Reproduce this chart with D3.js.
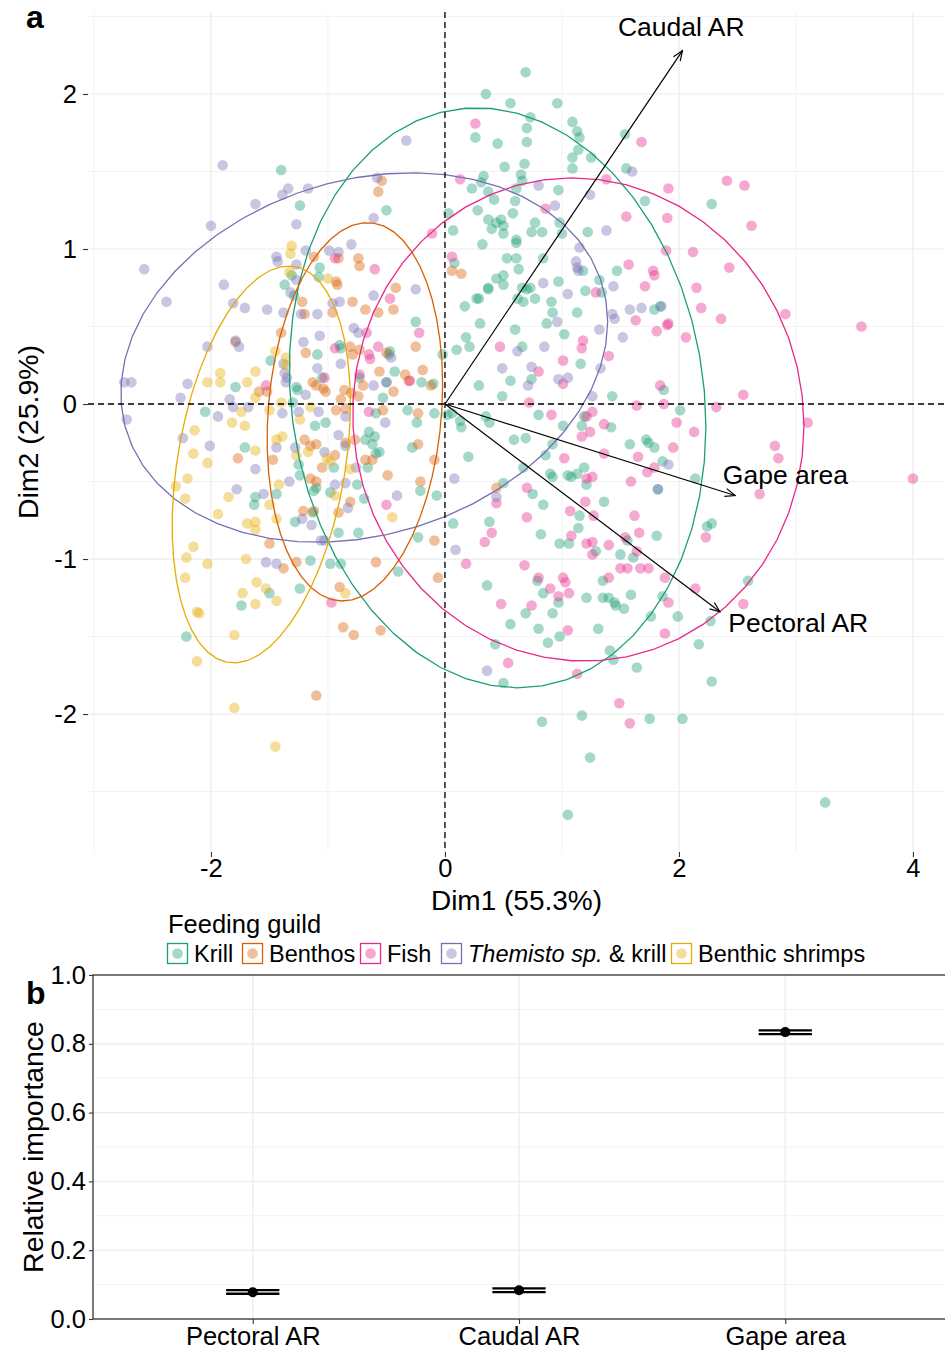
<!DOCTYPE html>
<html><head><meta charset="utf-8">
<script src="https://cdn.jsdelivr.net/npm/d3@7"></script>
<style>body{margin:0;background:#fff} svg{display:block} text{font-family:"Liberation Sans",Arial,Helvetica,sans-serif}</style>
</head><body><svg id="c" width="945" height="1360"></svg>
<script>
const guilds = ["Krill","Benthos","Fish","Themisto sp. & krill","Benthic shrimps"];
const guildColors = ["#1b9e77","#d95f02","#e7298a","#7570b3","#e6ab02"];

const krill = [[-1.40,1.51],[-1.24,1.28],[-0.50,1.25],[-1.07,0.88],[-1.31,0.83],[-1.08,0.82],[-1.37,0.77],
[0.69,2.14],[0.35,2.00],[0.56,1.94],[0.96,1.94],[0.73,1.85],[0.70,1.78],[1.09,1.82],[1.13,1.76],[1.15,1.72],[0.26,1.72],[0.45,1.68],[0.70,1.69],[1.54,1.74],[1.14,1.64],[1.09,1.59],[1.25,1.59],[0.51,1.53],[0.68,1.55],[1.09,1.52],[1.55,1.52],[0.65,1.48],[0.66,1.44],[0.33,1.47],[0.31,1.43],[0.23,1.39],[0.61,1.39],[0.97,1.38],[0.37,1.37],[0.42,1.32],[0.60,1.31],[1.71,1.31],[0.28,1.25],[0.58,1.23],[0.03,1.23],[0.37,1.19],[0.44,1.17],[0.48,1.19],[0.50,1.15],[0.40,1.13],[0.50,1.10],[0.77,1.17],[0.98,1.17],[1.00,1.10],[0.74,1.11],[0.83,1.11],[1.22,1.11],[0.07,1.12],[0.61,1.06],[0.61,1.04],[0.32,1.03],[0.08,0.91],[0.53,0.94],[0.61,0.94],[0.63,0.87],[0.84,0.94],[1.18,0.86],[1.47,0.86],[0.44,0.81],[0.50,0.83],[0.50,0.77],[0.97,0.79],[1.32,0.80],[0.37,0.75],[0.66,0.75],[0.73,0.75],[2.28,1.29],
[-1.29,0.70],[-0.90,0.38],[-0.89,0.36],[-1.09,0.32],[-1.49,0.28],[-1.79,0.11],[-1.27,0.11],[-1.26,0.09],[-1.05,0.17],[-0.73,0.17],[-1.30,0.01],[-0.59,-0.06],[-2.05,-0.05],[-1.11,-0.14],[-1.02,-0.12],[-0.68,-0.23],[-0.65,-0.18],[-0.60,-0.21],[-0.62,-0.26],[-0.59,-0.32],[-1.71,-0.28],[-1.25,-0.39],[-0.95,-0.41],[-0.66,-0.41],[-1.24,-0.46],[-1.10,-0.54],[-1.12,-0.56],[-0.98,-0.57],[-0.75,-0.52],[-0.69,-0.61],[-1.62,-0.60],[-1.63,-0.65],[-1.44,-0.58],[-1.13,-0.70],[-1.28,-0.76],[-0.91,-0.83],[-0.74,-0.83],[-1.15,-1.01],[-0.98,-1.03],[-0.89,-1.03],
[0.37,0.74],[0.17,0.63],[0.27,0.68],[0.29,0.68],[0.62,0.68],[0.67,0.66],[0.77,0.68],[0.70,0.74],[0.91,0.66],[0.92,0.59],[1.20,0.73],[1.34,0.72],[1.13,0.59],[0.30,0.52],[0.87,0.52],[0.60,0.48],[1.02,0.45],[1.79,0.61],[1.84,0.63],[-0.25,0.53],[-0.47,0.34],[-0.48,0.32],[0.18,0.43],[0.21,0.37],[0.10,0.35],[-0.02,0.32],[0.66,0.37],[1.16,0.26],[0.74,0.16],[0.56,0.15],[-0.43,0.21],[-0.20,0.14],[-0.10,0.13],[-0.50,0.14],[-0.53,0.04],[0.29,0.12],[0.49,0.05],[1.43,0.05],[1.87,0.09],[-0.32,-0.04],[-0.24,-0.12],[-0.09,-0.06],[0.02,-0.07],[0.06,-0.06],[0.13,-0.11],[0.14,-0.15],[0.35,-0.08],[0.38,-0.12],[0.80,-0.07],[1.01,-0.14],[1.19,-0.08],[1.17,-0.14],[1.42,-0.15],[-0.28,-0.28],[0.59,-0.23],[0.69,-0.22],[0.92,-0.26],[1.58,-0.26],[1.72,-0.23],[1.74,-0.25],[1.79,-0.28],[0.20,-0.34],[0.86,-0.33],[1.86,-0.37],[-0.56,-0.31],[0.67,-0.41],[0.90,-0.45],[0.92,-0.47],[1.05,-0.46],[1.08,-0.47],[1.13,-0.45],[1.19,-0.41],[1.21,-0.52],[-0.21,-0.56],[-0.07,-0.59],[0.50,-0.51],[0.75,-0.58],[0.84,-0.65],[1.36,-0.63],[1.15,-0.72],[1.14,-0.80],[0.07,-0.77],[0.38,-0.76],[0.82,-0.84],[0.98,-0.90],[1.06,-0.90],[1.81,-0.85],[1.56,-0.88],[-0.23,-0.86],[1.29,-0.95],[1.50,-0.97],[1.61,-0.99],[2.01,-0.04],[2.14,-0.48],[2.24,-0.79],[2.28,-0.77],[1.82,-0.55],
[-1.50,-1.22],[-1.74,-1.30],[-1.24,-1.19],[-2.21,-1.50],[-0.40,-1.08],[0.36,-1.17],[0.79,-1.14],[0.84,-1.22],[0.97,-1.28],[0.69,-1.35],[0.92,-1.35],[0.56,-1.42],[0.80,-1.45],[0.88,-1.54],[0.98,-1.50],[1.21,-1.25],[1.35,-1.14],[1.35,-1.25],[1.40,-1.25],[1.45,-1.28],[1.46,-1.30],[1.53,-1.32],[1.59,-1.23],[1.86,-1.24],[1.76,-1.37],[1.31,-1.45],[0.43,-1.55],[0.50,-1.80],[1.41,-1.59],[1.44,-1.65],[1.64,-1.70],[0.83,-2.05],[1.17,-2.01],[1.75,-2.03],[1.24,-2.28],[1.05,-2.65],[2.59,-1.14],[1.99,-1.37],[2.27,-1.40],[2.17,-1.55],[2.28,-1.79],[2.03,-2.03],[3.25,-2.57]];

const benthos = [[-0.54,1.44],[-0.57,1.37],[-1.12,0.95],[-0.91,0.94],[-0.74,0.94],[-0.73,0.89],[-0.93,0.79],[-0.92,0.77],[0.06,0.86],[0.14,0.84],[-1.20,0.58],[-1.22,0.66],[-0.96,0.59],[-0.79,0.66],[-0.68,0.61],[-0.57,0.59],[-1.40,0.46],[-1.79,0.40],[-0.81,0.37],[-0.79,0.32],[-0.73,0.35],[-1.19,0.33],[-1.59,0.08],[-1.52,0.08],[-1.13,0.14],[-1.10,0.12],[-1.04,0.10],[-1.02,0.08],[-0.86,0.09],[-0.80,0.07],[-0.74,0.05],[-0.70,0.12],[-0.56,0.21],[-0.93,-0.04],[-0.85,-0.03],[-0.89,0.03],[-1.20,-0.23],[-1.15,-0.27],[-1.10,-0.26],[-0.85,-0.25],[-0.77,-0.23],[-0.94,-0.33],[-1.77,-0.35],[-1.47,-0.36],[-1.05,-0.41],[-0.68,-0.36],[-0.62,-0.36],[-1.15,-0.48],[-1.10,-0.50],[-0.81,-0.63],[-1.21,-0.69],[-1.12,-0.69],[-0.91,-0.70],[-1.50,-0.90],[-1.27,-1.02],[-0.59,-1.02],[-0.42,0.75],[-0.44,0.61],[-0.25,0.37],[-0.50,0.33],[-0.34,0.19],[-0.31,0.15],[-0.19,0.22],[-0.12,0.12],[-0.44,0.08],[-0.53,-0.04],[-0.23,-0.06],[-0.23,-0.26],[-0.09,-0.36],[-0.49,-0.46],[-0.21,-0.50],[0.44,-0.54],[-0.09,-0.88],[-1.38,-1.06],[-0.90,-1.18],[-0.87,-1.44],[-0.78,-1.49],[-0.55,-1.46],[-1.10,-1.88],[-0.06,-1.12]];

const fish = [[-0.94,0.94],[-0.60,0.87],[0.26,1.81],[1.68,1.69],[0.13,1.45],[1.38,1.45],[1.91,1.39],[0.86,1.26],[1.55,1.21],[1.90,1.20],[-0.11,1.10],[1.89,0.99],[0.06,0.95],[1.57,0.90],[1.78,0.86],[1.79,0.83],[1.71,0.76],[2.41,1.44],[2.56,1.41],[2.62,1.15],[2.12,0.98],[2.43,0.88],[2.15,0.75],[-0.67,0.46],[-0.94,0.36],[-0.57,0.37],[-0.65,0.32],[-0.64,0.29],[-1.53,0.12],[-1.03,0.17],[-0.73,0.19],[-0.65,-0.05],[-0.47,0.68],[1.29,0.72],[1.63,0.54],[1.81,0.47],[1.90,0.51],[-0.22,0.46],[0.47,0.37],[1.18,0.41],[1.17,0.36],[1.01,0.28],[1.40,0.31],[0.80,0.21],[1.01,0.13],[-0.30,0.15],[0.72,0.01],[1.84,0.12],[1.64,-0.01],[1.87,0.00],[0.91,-0.07],[1.21,-0.08],[1.26,-0.05],[1.24,-0.18],[1.17,-0.21],[1.36,-0.13],[1.02,-0.35],[1.36,-0.32],[1.65,-0.34],[1.21,-0.48],[1.26,-0.47],[1.59,-0.50],[1.73,-0.44],[1.79,-0.41],[-0.50,-0.65],[0.44,-0.64],[0.70,-0.54],[1.20,-0.63],[1.27,-0.72],[1.07,-0.69],[1.62,-0.72],[0.70,-0.73],[0.40,-0.83],[0.34,-0.89],[1.08,-0.85],[1.21,-0.90],[1.26,-0.89],[1.40,-0.91],[1.54,-0.86],[1.66,-0.83],[1.26,-0.97],[1.64,-0.95],[0.18,-1.03],[0.68,-1.04],[2.19,0.62],[2.36,0.55],[2.91,0.58],[3.56,0.50],[1.91,0.52],[2.06,0.43],[2.32,-0.02],[2.55,0.06],[3.10,-0.12],[1.98,-0.12],[2.13,-0.18],[1.95,-0.28],[2.82,-0.27],[2.85,-0.35],[2.69,-0.58],[4.00,-0.48],[2.23,-0.86],[-0.97,-1.28],[0.80,-1.12],[1.01,-1.12],[1.03,-1.15],[0.90,-1.19],[0.97,-1.24],[1.06,-1.22],[0.48,-1.29],[0.74,-1.30],[1.05,-1.46],[1.40,-1.12],[1.50,-1.06],[1.56,-1.06],[1.67,-1.06],[1.74,-1.06],[1.88,-1.12],[1.91,-1.28],[1.88,-1.48],[0.54,-1.67],[1.13,-1.74],[1.49,-1.93],[1.58,-2.06],[2.14,-1.19],[2.55,-1.29]];

const themisto = [[-1.90,1.54],[-1.34,1.39],[-1.39,1.35],[-1.17,1.39],[-1.62,1.29],[-2.00,1.15],[-1.27,1.16],[-0.58,1.46],[-0.61,1.20],[-1.44,0.95],[-1.43,0.92],[-1.19,0.99],[-0.99,0.99],[-0.91,0.98],[-0.80,1.03],[-2.57,0.87],[-1.27,0.90],[-1.89,0.77],[-1.27,0.80],[-0.33,1.70],[1.60,1.50],[0.80,1.41],[1.24,1.35],[0.94,1.28],[1.38,1.12],[1.15,1.01],[1.12,0.92],[1.13,0.88],[1.14,0.86],[0.84,0.78],[1.44,0.76],[-2.38,0.66],[-1.81,0.65],[-1.71,0.62],[-1.52,0.61],[-1.38,0.59],[-1.23,0.58],[-1.09,0.58],[-1.32,0.72],[-0.96,0.65],[-0.90,0.66],[-0.61,0.70],[-1.07,0.44],[-0.78,0.49],[-0.74,0.46],[-1.21,0.40],[-1.79,0.41],[-1.76,0.37],[-2.03,0.37],[-1.38,0.26],[-1.37,0.20],[-1.35,0.17],[-1.36,0.14],[-0.89,0.26],[-1.09,0.23],[-2.20,0.13],[-1.19,0.06],[-0.61,0.12],[-2.74,0.14],[-2.68,0.14],[-2.26,0.04],[-1.84,0.03],[-1.81,-0.02],[-1.68,-0.02],[-1.39,-0.06],[-1.25,-0.05],[-1.08,-0.05],[-0.85,-0.08],[-1.94,-0.08],[-2.72,-0.10],[-0.91,-0.20],[-2.24,-0.22],[-0.85,-0.27],[-2.01,-0.27],[-1.44,-0.28],[-1.28,-0.28],[-1.03,-0.31],[-0.76,-0.41],[-1.62,-0.42],[-1.33,-0.50],[-0.94,-0.52],[-0.85,-0.51],[-1.78,-0.55],[-1.55,-0.58],[-0.83,-0.67],[-1.22,-0.74],[-1.14,-0.78],[-1.06,-0.88],[-1.03,-0.88],[-1.53,-1.02],[-1.44,-1.03],[-0.25,0.74],[1.05,0.71],[0.96,0.53],[1.43,0.58],[1.45,0.55],[1.58,0.61],[1.68,0.62],[1.32,0.48],[1.52,0.43],[-0.46,0.30],[0.62,0.34],[0.85,0.37],[0.49,0.23],[0.74,0.24],[0.97,0.16],[1.05,0.17],[0.71,0.12],[1.33,0.23],[-0.50,0.14],[1.26,0.05],[-0.51,-0.12],[1.82,-0.55],[0.08,-0.48],[-0.41,-0.59],[0.44,-0.60],[0.09,-0.94],[1.85,0.63],[1.91,-0.39],[0.36,-1.72]];

const shrimps = [[-1.31,1.02],[-1.32,0.97],[-1.00,0.81],[-1.33,0.85],[-1.45,0.34],[-1.36,0.30],[-1.36,0.25],[-1.62,0.21],[-1.92,0.20],[-1.92,0.14],[-2.03,0.14],[-1.69,0.14],[-1.62,0.04],[-1.74,-0.05],[-1.50,-0.04],[-1.40,0.01],[-1.15,-0.02],[-1.82,-0.12],[-1.71,-0.14],[-1.24,-0.10],[-2.14,-0.17],[-1.44,-0.23],[-1.39,-0.21],[-1.62,-0.30],[-1.17,-0.31],[-2.15,-0.32],[-2.03,-0.38],[-1.27,-0.33],[-1.01,-0.35],[-0.98,-0.37],[-0.81,-0.42],[-2.30,-0.53],[-2.20,-0.48],[-1.42,-0.52],[-0.94,-0.59],[-1.85,-0.60],[-2.22,-0.61],[-1.50,-0.65],[-1.94,-0.71],[-1.44,-0.74],[-1.69,-0.77],[-1.62,-0.76],[-1.62,-0.81],[-2.15,-0.92],[-2.21,-0.99],[-2.03,-1.03],[-1.70,-1.00],[-0.45,-0.73],[-2.22,-1.12],[-1.61,-1.15],[-1.53,-1.19],[-1.73,-1.22],[-1.62,-1.29],[-1.44,-1.27],[-0.85,-1.22],[-2.12,-1.34],[-2.10,-1.35],[-1.80,-1.49],[-2.12,-1.66],[-1.80,-1.96],[-1.45,-2.21]];

// ellipse summaries per guild: centre and covariance [Sxx, Sxy, Syy]
const ellipseCenters = [[0.45,0.04],[-0.77,-0.05],[1.14,-0.10],[-0.69,0.30],[-1.57,-0.39]];
const ellipseCov = [[3.17,-0.33,3.50],[0.5625,0.13,1.49],[3.72,-0.08,2.43],[4.33,0.48,1.42],[0.58,0.30,1.64]];

// variable loadings (arrows)
const variables = ["Caudal AR","Gape area","Pectoral AR"];
const loadingX = [2.03,2.48,2.35];
const loadingY = [2.28,-0.59,-1.34];
const labelX = [2.02,2.91,3.02];
const labelY = [2.43,-0.46,-1.41];

const xTicksA = [-2,0,2,4];
const yTicksA = [-2,-1,0,1,2];

// panel b
const predictors = ["Pectoral AR","Caudal AR","Gape area"];
const importance = [0.078,0.0835,0.834];
const importanceLo = [0.0735,0.078,0.828];
const importanceHi = [0.084,0.089,0.839];
const yTicksB = [0,0.2,0.4,0.6,0.8,1.0];

const groups = [krill, benthos, fish, themisto, shrimps];

const svg = d3.select("#c");
const FONT = '"Liberation Sans",Arial,Helvetica,sans-serif';

// ---------- Panel a ----------
const A = {l:88, r:945, t:12, b:852};
const x = d3.scaleLinear().domain([-3.051, 4.274]).range([A.l, A.r]);
const y = d3.scaleLinear().domain([-2.890, 2.529]).range([A.b, A.t]);

const ga = svg.append("g");
d3.range(-3,5,1).forEach(v=>{
  const major = v%2===0;
  ga.append("line").attr("x1",x(v)).attr("x2",x(v)).attr("y1",A.t).attr("y2",A.b)
    .attr("stroke", major?"#ebebeb":"#f2f2f2").attr("stroke-width", major?1.2:1);
});
d3.range(-2.5,2.51,0.5).forEach(v=>{
  const major = Math.abs(v-Math.round(v))<1e-6;
  ga.append("line").attr("x1",A.l).attr("x2",A.r).attr("y1",y(v)).attr("y2",y(v))
    .attr("stroke", major?"#ebebeb":"#f2f2f2").attr("stroke-width", major?1.2:1);
});

groups.forEach((pts,gi)=>{
  ga.append("g").selectAll("circle").data(pts).join("circle")
    .attr("cx",d=>x(d[0])).attr("cy",d=>y(d[1])).attr("r",5.3)
    .attr("fill",guildColors[gi]).attr("fill-opacity",0.4);
});

const line = d3.line().x(d=>x(d[0])).y(d=>y(d[1]));
ellipseCenters.forEach((c,gi)=>{
  const [sxx,sxy,syy] = ellipseCov[gi];
  const l11 = Math.sqrt(sxx), l21 = sxy/l11, l22 = Math.sqrt(syy - l21*l21);
  const pts = d3.range(0,52).map(i=>{
    const t = i/51*2*Math.PI;
    return [c[0]+l11*Math.cos(t), c[1]+l21*Math.cos(t)+l22*Math.sin(t)];
  });
  ga.append("path").attr("d",line(pts)).attr("fill","none")
    .attr("stroke",guildColors[gi]).attr("stroke-width",1.3);
});

ga.append("line").attr("x1",x(0)).attr("x2",x(0)).attr("y1",A.t).attr("y2",A.b)
  .attr("stroke","#000").attr("stroke-width",1.3).attr("stroke-dasharray","6,4");
ga.append("line").attr("x1",A.l).attr("x2",A.r).attr("y1",y(0)).attr("y2",y(0))
  .attr("stroke","#000").attr("stroke-width",1.3).attr("stroke-dasharray","6,4");

svg.append("defs").append("marker").attr("id","arr").attr("viewBox","0 0 12 12")
  .attr("refX",11).attr("refY",6).attr("markerWidth",12).attr("markerHeight",12)
  .attr("markerUnits","userSpaceOnUse").attr("orient","auto")
  .append("path").attr("d","M1,2 L11,6 L1,10").attr("fill","none").attr("stroke","#000").attr("stroke-width",1.2);
variables.forEach((v,i)=>{
  ga.append("line").attr("x1",x(0)).attr("y1",y(0)).attr("x2",x(loadingX[i])).attr("y2",y(loadingY[i]))
    .attr("stroke","#000").attr("stroke-width",1.2).attr("marker-end","url(#arr)");
  ga.append("text").attr("x",x(labelX[i])).attr("y",y(labelY[i])).attr("text-anchor","middle")
    .attr("dominant-baseline","central").attr("font-size",26.5).attr("fill","#000").text(v);
});

const xAxisA = d3.axisBottom(x).tickValues(xTicksA).tickSize(5).tickPadding(2).tickFormat(d=>String(d));
const gxa = svg.append("g").attr("transform",`translate(0,${A.b})`).call(xAxisA);
gxa.select(".domain").remove();
gxa.selectAll("line").attr("stroke","#333").attr("stroke-width",1.1);
gxa.selectAll("text").attr("font-size",25.5).attr("fill","#000").attr("font-family",FONT);
const yAxisA = d3.axisLeft(y).tickValues(yTicksA).tickSize(5).tickPadding(6).tickFormat(d=>String(d));
const gya = svg.append("g").attr("transform",`translate(${A.l},0)`).call(yAxisA);
gya.select(".domain").remove();
gya.selectAll("line").attr("stroke","#333").attr("stroke-width",1.1);
gya.selectAll("text").attr("font-size",25.5).attr("fill","#000").attr("font-family",FONT);

svg.append("text").attr("x",(A.l+A.r)/2).attr("y",910).attr("text-anchor","middle")
  .attr("font-size",28).text("Dim1 (55.3%)");
svg.append("text").attr("transform",`translate(38,${(A.t+A.b)/2}) rotate(-90)`).attr("text-anchor","middle")
  .attr("font-size",28.5).text("Dim2 (25.9%)");
svg.append("text").attr("x",26).attr("y",28).attr("font-size",32).attr("font-weight","bold").text("a");

svg.append("text").attr("x",168).attr("y",933).attr("font-size",25.5).text("Feeding guild");
const legX = [167,242,360,441,671];
guilds.forEach((g,i)=>{
  const lg = svg.append("g").attr("transform",`translate(${legX[i]},943)`);
  lg.append("rect").attr("x",0.5).attr("y",0.5).attr("width",20).attr("height",20)
    .attr("fill","#fff").attr("stroke",guildColors[i]).attr("stroke-width",1.3);
  lg.append("circle").attr("cx",10.5).attr("cy",10.5).attr("r",5.3).attr("fill",guildColors[i]).attr("fill-opacity",0.4);
  const t = lg.append("text").attr("x",27).attr("y",19).attr("font-size",23.5);
  if (i===3){
    t.append("tspan").attr("font-style","italic").text("Themisto sp.");
    t.append("tspan").text(" & krill");
  } else t.text(g);
});

// ---------- Panel b ----------
const B = {l:93, r:945, t:975, b:1319};
const xb = d3.scalePoint().domain(predictors).range([B.l, B.r]).padding(0.6);
const yb = d3.scaleLinear().domain([0,1]).range([B.b, B.t]);
const gb = svg.append("g");
d3.range(0.1,1.0,0.2).forEach(v=>{
  gb.append("line").attr("x1",B.l).attr("x2",B.r).attr("y1",yb(v)).attr("y2",yb(v)).attr("stroke","#f2f2f2").attr("stroke-width",1);
});
yTicksB.forEach(v=>{
  gb.append("line").attr("x1",B.l).attr("x2",B.r).attr("y1",yb(v)).attr("y2",yb(v)).attr("stroke","#ebebeb").attr("stroke-width",1.2);
});
predictors.forEach(p=>{
  gb.append("line").attr("x1",xb(p)).attr("x2",xb(p)).attr("y1",B.t).attr("y2",B.b).attr("stroke","#ebebeb").attr("stroke-width",1.2);
});
gb.append("rect").attr("x",B.l).attr("y",B.t).attr("width",B.r-B.l+5).attr("height",B.b-B.t)
  .attr("fill","none").attr("stroke","#333").attr("stroke-width",1.3);

const half = xb.step()*0.1;
predictors.forEach((p,i)=>{
  const cx = xb(p);
  gb.append("line").attr("x1",cx-half).attr("x2",cx+half).attr("y1",yb(importanceHi[i])).attr("y2",yb(importanceHi[i])).attr("stroke","#000").attr("stroke-width",2.4);
  gb.append("line").attr("x1",cx-half).attr("x2",cx+half).attr("y1",yb(importanceLo[i])).attr("y2",yb(importanceLo[i])).attr("stroke","#000").attr("stroke-width",2.4);
  gb.append("line").attr("x1",cx).attr("x2",cx).attr("y1",yb(importanceHi[i])).attr("y2",yb(importanceLo[i])).attr("stroke","#000").attr("stroke-width",2.4);
  gb.append("circle").attr("cx",cx).attr("cy",yb(importance[i])).attr("r",5).attr("fill","#000");
});

const xAxisB = d3.axisBottom(xb).tickSize(5).tickPadding(3);
const gxb = svg.append("g").attr("transform",`translate(0,${B.b})`).call(xAxisB);
gxb.select(".domain").remove();
gxb.selectAll("line").attr("stroke","#333").attr("stroke-width",1.1);
gxb.selectAll("text").attr("font-size",25.5).attr("fill","#000").attr("font-family",FONT);
const yAxisB = d3.axisLeft(yb).tickValues(yTicksB).tickSize(4).tickPadding(3).tickFormat(d3.format(".1f"));
const gyb = svg.append("g").attr("transform",`translate(${B.l},0)`).call(yAxisB);
gyb.select(".domain").remove();
gyb.selectAll("line").attr("stroke","#333").attr("stroke-width",1.1);
gyb.selectAll("text").attr("font-size",25.5).attr("fill","#000").attr("font-family",FONT);

svg.append("text").attr("transform",`translate(43,${(B.t+B.b)/2}) rotate(-90)`).attr("text-anchor","middle")
  .attr("font-size",28.5).text("Relative importance");
svg.append("text").attr("x",26).attr("y",1004).attr("font-size",32).attr("font-weight","bold").text("b");
</script></body></html>
